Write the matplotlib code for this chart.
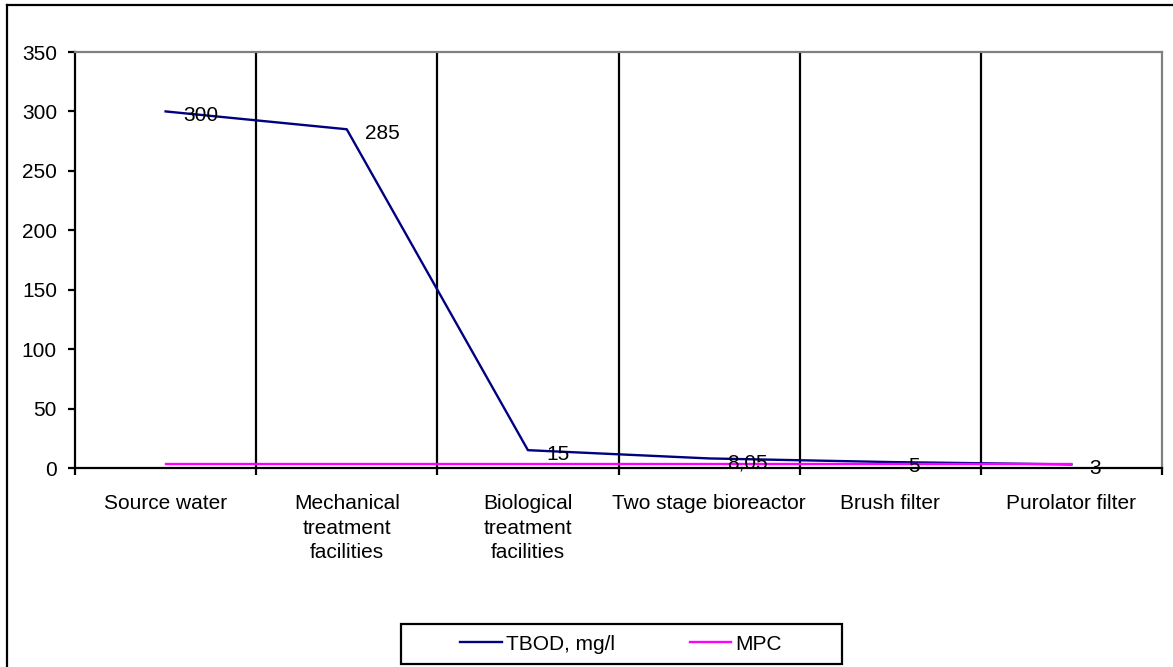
import numpy as np
import matplotlib
matplotlib.use("Agg")
from matplotlib import pyplot as plt
from matplotlib.lines import Line2D
from matplotlib.patches import Rectangle

plt.rcParams['font.family'] = ['Liberation Sans', 'DejaVu Sans']

stages = ['Source water', 'Mechanical\ntreatment\nfacilities',
          'Biological\ntreatment\nfacilities', 'Two stage bioreactor',
          'Brush filter', 'Purolator filter']
tbod = [300, 285, 15, 8.05, 5, 3]
mpc = [3, 3, 3, 3, 3, 3]
y_ticks = [0, 50, 100, 150, 200, 250, 300, 350]

FS = 15
W, H = 1173, 667
fig = plt.figure(figsize=(W / 100, H / 100), dpi=100)
ax = fig.add_axes([75 / W, 1 - 468 / H, (1162 - 75) / W, (468 - 52) / H])

x = np.arange(len(stages)) + 0.5

# vertical lines between categories
for b in range(1, len(stages)):
    ax.axvline(b, color='black', lw=1.6, zorder=1)

ax.plot(x, tbod, color='#000080', lw=1.7, zorder=3, label='TBOD, mg/l')
ax.plot(x, mpc, color='#FF00FF', lw=1.7, zorder=4, label='MPC')

for xi, v in zip(x, tbod):
    ax.annotate(f"{v:g}".replace('.', ','), (xi, v), xytext=(13, -3),
                textcoords='offset points', ha='left', va='center',
                fontsize=FS, zorder=5)

ax.set_xlim(0, len(stages))
ax.set_ylim(0, 350)
ax.set_yticks(y_ticks)
ax.set_xticks(range(len(stages) + 1))
ax.set_xticklabels([])
ax.set_xticks(x, minor=True)
ax.set_xticklabels(stages, minor=True, fontsize=FS, linespacing=1.35)
ax.tick_params(axis='x', which='major', length=5, width=1.6, direction='out')
ax.tick_params(axis='x', which='minor', length=0, pad=19)
ax.tick_params(axis='y', length=5, width=1.6, direction='out', labelsize=FS, pad=8)

ax.spines['left'].set_linewidth(1.6)
ax.spines['bottom'].set_linewidth(1.6)
for s in ('top', 'right'):
    ax.spines[s].set_color('#808080')
    ax.spines[s].set_linewidth(1.6)

# outer chart frame (left and top edges visible)
fig.add_artist(Line2D([7 / W, 7 / W], [0, 1 - 5 / H], color='black', lw=1.6,
                      transform=fig.transFigure))
fig.add_artist(Line2D([7 / W, 1], [1 - 5 / H, 1 - 5 / H], color='black', lw=1.6,
                      transform=fig.transFigure))

# legend with a hand drawn box
fig.add_artist(Rectangle((401 / W, 1 - 664 / H), (842 - 401) / W, 40 / H,
                         fill=False, edgecolor='black', lw=1.6,
                         transform=fig.transFigure))
handles, labels = ax.get_legend_handles_labels()
fig.legend(handles, labels, loc='center', bbox_to_anchor=(621 / W, 1 - 644 / H),
           ncol=2, frameon=False, fontsize=FS, handlelength=2.0,
           handletextpad=0.2, columnspacing=3.6)

fig.savefig('out.png', dpi=100)
